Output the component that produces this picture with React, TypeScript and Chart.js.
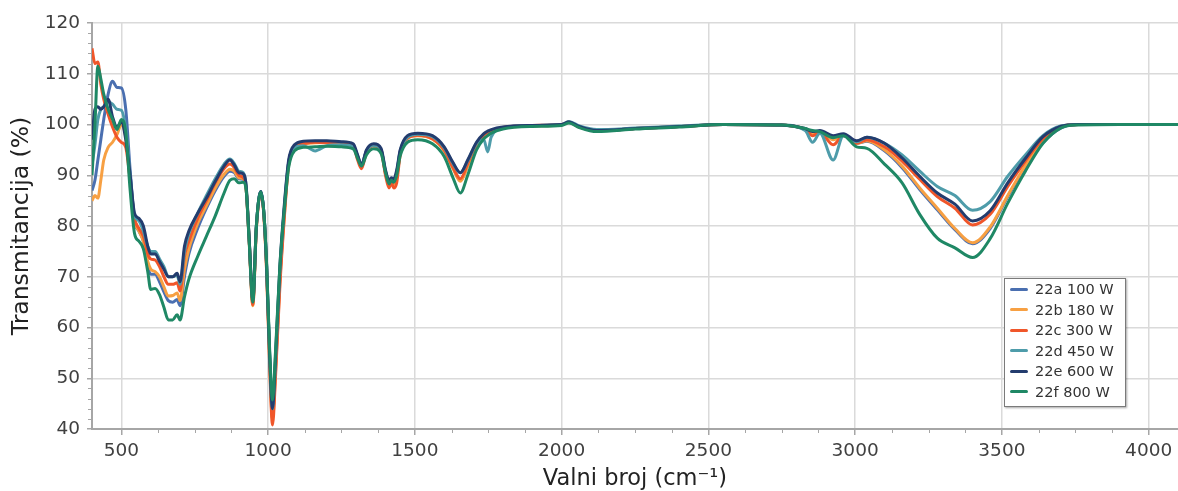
import React, { useEffect, useRef } from "react";
import { Chart, registerables } from "chart.js";

Chart.register(...registerables);

const wavenumbers = [
  400, 410, 420, 430, 440, 455, 470, 485, 500, 515,
  530, 545, 560, 575, 590, 600, 615, 630, 645, 660,
  675, 690, 700, 715, 730, 760, 790, 820, 850, 870,
  885, 900, 915, 925, 935, 948, 960, 975, 985, 995,
  1005, 1015, 1025, 1040, 1055, 1070, 1090, 1120, 1160, 1200,
  1250, 1290, 1305, 1318, 1335, 1360, 1385, 1400, 1412, 1420,
  1428, 1438, 1450, 1475, 1510, 1560, 1600, 1630, 1655, 1680,
  1710, 1735, 1748, 1760, 1800, 1900, 2000, 2025, 2060, 2120,
  2250, 2400, 2550, 2750, 2830, 2855, 2880, 2925, 2960, 3005,
  3040, 3100, 3160, 3220, 3280, 3340, 3400, 3460, 3520, 3580,
  3640, 3700, 3760, 3900, 4100,
];

const s22a = [
  87, 89, 93, 97, 101, 106, 108.5, 107.3, 107.2, 103,
  91, 81, 79, 77, 72, 70.5, 70.5, 69, 67, 65.3,
  65, 65.5, 64.3, 70, 74.5, 79.5, 83.5, 87, 89.8, 90.8,
  90.5, 89.3, 89.2, 87.3, 77.8, 65, 80, 86.8, 83, 72,
  54.5, 43, 52, 70, 83, 92.5, 95.6, 96.3, 96.5, 96.5,
  96.3, 95.9, 93.7, 92, 94.8, 95.9, 95, 90.6, 88.5, 89.2,
  88.8, 90.5, 94.6, 97.5, 97.9, 97.3, 95, 91.6, 89, 92,
  96.1, 97.9, 98.4, 98.8, 99.4, 99.8, 100, 100.5, 99.6, 98.8,
  99.2, 99.6, 100, 99.9, 99.1, 98.4, 98.6, 97.2, 98, 96.3,
  96.7, 94.8, 91.5, 87.2, 83.2, 79.3, 76.5, 79.5, 85.8, 91.6,
  96.4, 99.3, 100, 100, 100,
];

const s22b = [
  85, 86, 85.5, 89, 93, 95.5, 96.5, 98, 100, 97.5,
  89, 81, 79, 77, 73, 71.5, 71, 70, 68, 66.2,
  66.3, 66.8, 65.3, 71.5, 75.5, 80.5, 84, 87.5, 90.2, 91.2,
  90.8, 89.5, 89.3, 87.3, 77.5, 64.3, 79.5, 86.5, 82.5, 71,
  53.5, 42, 51, 69, 82, 92.2, 95.5, 96.2, 96.4, 96.5,
  96.2, 95.8, 93.5, 91.8, 94.6, 95.8, 94.9, 90.3, 88, 88.8,
  88.2, 89.5, 94.3, 97.3, 97.8, 97.1, 94.8, 91.3, 88.8, 91.8,
  96, 97.8, 98.3, 98.7, 99.3, 99.7, 99.9, 100.4, 99.5, 98.8,
  99.2, 99.6, 100, 99.9, 99.1, 98.3, 98.6, 97, 98, 96.3,
  96.8, 95, 91.8, 87.5, 83.5, 79.5, 76.7, 79.8, 86, 91.9,
  96.7, 99.5, 100, 100, 100,
];

const s22c = [
  115, 112, 112.3, 108, 105, 102, 99.5, 97.5, 96.5, 95.5,
  89, 81.5, 79.5, 78, 74.5, 73.5, 73.3, 72, 70, 68.5,
  68.5, 68.8, 67.2, 74, 77, 81.5, 85, 88.5, 91.3, 92.2,
  91.5, 90, 89.5, 87.5, 77.8, 64.5, 79.5, 86.5, 82.5, 71,
  53, 40.8, 50, 68, 81.5, 92, 95.5, 96.2, 96.5, 96.4,
  96.2, 95.8, 93, 91.3, 94.5, 95.8, 94.8, 90, 87.5, 88.5,
  87.5, 88.5, 94, 97.3, 97.9, 97.2, 95, 91.5, 89.3, 92.3,
  96.2, 98, 98.4, 98.8, 99.4, 99.8, 100, 100.5, 99.5, 98.8,
  99.2, 99.6, 100, 99.9, 99, 97.8, 98.4, 96, 97.8, 96.3,
  97, 95.6, 92.8, 89.2, 85.8, 83.5, 80.2, 82.3, 87.8, 92.8,
  97.2, 99.6, 100, 100, 100,
];

const s22d = [
  92, 96, 101, 103, 103.5, 104.5, 104, 103, 102.8, 99,
  90, 82, 81, 79, 76, 75, 75, 73.5, 72, 70,
  70, 70.3, 68.5, 75, 78.5, 82.5, 86, 89.3, 92.2, 93.2,
  92.3, 90.8, 90.5, 88, 78, 65.5, 80, 86.8, 83, 72,
  55, 44, 53, 71, 83.5, 92.5, 95.5, 95.8, 94.8, 95.8,
  96, 95.7, 93.8, 92, 94.8, 95.9, 95, 90.8, 88.8, 89.3,
  89, 90.5, 94.8, 97.5, 98.1, 97.6, 95.4, 92.3, 90.5, 92.8,
  96.3, 97, 94.6, 97.5, 99.3, 99.8, 100, 100.6, 99.7, 99,
  99.3, 99.7, 100, 99.9, 98.8, 96.5, 98.3, 93, 97.8, 96.6,
  97.5, 96.3, 94, 90.8, 87.8, 86, 83.1, 84.8, 89.8, 94,
  97.8, 99.7, 100, 100, 100,
];

const s22e = [
  97, 103, 103.5, 103, 103.5, 105, 101.5, 99.5, 100.5, 97,
  90, 82.5, 81.5, 80, 76, 74.5, 74.5, 73, 71.5, 70,
  70, 70.7, 69, 76, 79, 82.5, 85.5, 88.8, 91.8, 93,
  92, 90.5, 90.3, 88, 78, 65.5, 80, 86.8, 83, 72,
  55, 44, 54, 72, 84, 93, 96, 96.7, 96.8, 96.8,
  96.6, 96.2, 94, 92, 95, 96.2, 95.3, 91, 89, 89.5,
  89.3, 91, 95, 97.8, 98.3, 97.8, 95.6, 92.5, 90.5, 93,
  96.5, 98.2, 98.7, 99, 99.5, 99.8, 100, 100.5, 99.6, 98.8,
  99.2, 99.6, 100, 99.9, 99.2, 98.6, 98.8, 97.8, 98.2, 96.8,
  97.5, 96.3, 93.4, 89.8, 86.5, 84.3, 81, 83, 88.5, 93.3,
  97.6, 99.6, 100, 100, 100,
];

const s22f = [
  90, 100, 111.5, 109, 106, 103, 101, 99, 101, 98.5,
  87, 78.5, 77, 75.5, 71, 67.5, 67.7, 66.5, 64, 61.5,
  61.5, 62.5, 61.5, 66, 69.5, 74, 78, 82, 86.5, 89,
  89.3, 88.5, 88.6, 87.2, 77.5, 65, 80, 86.7, 83, 72.5,
  56, 45.7, 55, 72, 83, 91.5, 94.8, 95.5, 95.6, 95.7,
  95.6, 95.2, 93.3, 91.8, 94, 95.2, 94.3, 90.5, 88.3, 89,
  88.6, 90, 93.8, 96.5, 97, 96.2, 93.7, 89.5, 86.5, 90,
  95, 97.2, 97.8, 98.3, 99.1, 99.6, 99.8, 100.3, 99.4, 98.6,
  99.1, 99.5, 100, 99.9, 99.2, 98.8, 98.6, 97.4, 97.8, 95.6,
  95.3, 92.2, 88.5, 82.3, 77.6, 75.7, 73.8, 77.5, 84.5, 90.8,
  96.3, 99.3, 99.9, 100, 100,
];

const seriesLabels = ["22a 100 W", "22b 180 W", "22c 300 W", "22d 450 W", "22e 600 W", "22f 800 W"];
const seriesValues = [s22a, s22b, s22c, s22d, s22e, s22f];
const seriesColors = ["#4a6fb0", "#f7a043", "#f0562a", "#4e9caa", "#233c6e", "#1f8865"];

const xTickValues = [500, 1000, 1500, 2000, 2500, 3000, 3500, 4000];
const xTitle = "Valni broj (cm\u207B\u00B9)";
const yTitle = "Transmitancija (%)";

const FONT = "'DejaVu Sans', Verdana, sans-serif";

const minorTicksPlugin = {
  id: "minorTicks",
  afterDraw(chart: any) {
    const { ctx, scales, chartArea } = chart;
    const x = scales.x;
    const y = scales.y;
    ctx.save();
    ctx.strokeStyle = "#a6a6a6";
    ctx.lineWidth = 1;
    ctx.beginPath();
    for (let v = 500; v < x.max; v += 125) {
      if (v % 500 === 0) continue;
      const px = Math.round(x.getPixelForValue(v)) + 0.5;
      ctx.moveTo(px, chartArea.bottom);
      ctx.lineTo(px, chartArea.bottom + 4);
    }
    for (let v = y.min + 2; v < y.max; v += 2) {
      if (v % 10 === 0) continue;
      const py = Math.round(y.getPixelForValue(v)) + 0.5;
      ctx.moveTo(chartArea.left - 4, py);
      ctx.lineTo(chartArea.left, py);
    }
    ctx.stroke();
    ctx.restore();
  },
};

export default function App() {
  const canvasRef = useRef<HTMLCanvasElement | null>(null);

  useEffect(() => {
    document.body.style.margin = "0";
    const canvas = canvasRef.current;
    if (!canvas) return;
    const datasets = seriesLabels.map((label, i) => ({
      label,
      data: wavenumbers.map((w, j) => ({ x: w, y: seriesValues[i][j] })),
      borderColor: seriesColors[i],
      backgroundColor: seriesColors[i],
      borderWidth: 3,
      pointRadius: 0,
      cubicInterpolationMode: "monotone" as const,
      fill: false,
      order: seriesLabels.length - i,
    }));
    const chart = new Chart(canvas, {
      type: "line",
      data: { datasets },
      plugins: [minorTicksPlugin],
      options: {
        animation: false,
        responsive: true,
        maintainAspectRatio: false,
        layout: { padding: { top: 23, right: 0, left: 0, bottom: 0 } },
        plugins: {
          legend: { display: false },
          tooltip: { enabled: false },
        },
        scales: {
          x: {
            type: "linear",
            min: 400,
            max: 4100,
            afterFit: (s: any) => {
              s.height = 62;
            },
            afterBuildTicks: (s: any) => {
              s.ticks = xTickValues.map((v) => ({ value: v }));
            },
            ticks: {
              color: "#404040",
              font: { family: FONT, size: 18.5 },
              padding: 5,
              maxRotation: 0,
              autoSkip: false,
              callback: (v: any) => String(v),
            },
            grid: {
              color: "#dadada",
              lineWidth: 1.5,
              tickLength: 6,
              tickColor: "#a6a6a6",
            },
            border: { color: "#a6a6a6", width: 2 },
            title: {
              display: true,
              text: xTitle,
              color: "#222",
              font: { family: FONT, size: 22.5 },
              padding: { top: 0, bottom: -2 },
            },
          },
          y: {
            type: "linear",
            min: 40,
            max: 120,
            afterFit: (s: any) => {
              s.width = 92;
            },
            ticks: {
              stepSize: 10,
              color: "#404040",
              font: { family: FONT, size: 18.5 },
              padding: 7,
              callback: (v: any) => String(v),
            },
            grid: {
              color: "#dadada",
              lineWidth: 1.5,
              tickLength: 5,
              tickColor: "#a6a6a6",
            },
            border: { color: "#a6a6a6", width: 2 },
            title: {
              display: true,
              text: yTitle,
              color: "#222",
              font: { family: FONT, size: 23.5 },
              padding: { top: 8, bottom: 0 },
            },
          },
        },
      },
    });
    return () => chart.destroy();
  }, []);

  return (
    <div style={{ position: "fixed", left: 0, top: 0, width: 1178, height: 491, background: "#fff" }}>
      <canvas ref={canvasRef} />
      <div
        style={{
          position: "absolute",
          left: 1004,
          top: 278,
          width: 122,
          height: 129,
          boxSizing: "border-box",
          border: "1px solid #7a7a7a",
          boxShadow: "1px 1px 2px rgba(0,0,0,0.35)",
          background: "#fff",
          paddingLeft: 5,
          paddingTop: 0,
          fontFamily: FONT,
          fontSize: 14.5,
          color: "#333",
        }}
      >
        {seriesLabels.map((label, i) => (
          <div key={label} style={{ display: "flex", alignItems: "center", height: 20.5, whiteSpace: "nowrap" }}>
            <span
              style={{
                display: "inline-block",
                width: 18,
                height: 3,
                borderRadius: 1.5,
                background: seriesColors[i],
                marginRight: 7,
              }}
            />
            <span>{label}</span>
          </div>
        ))}
      </div>
    </div>
  );
}
